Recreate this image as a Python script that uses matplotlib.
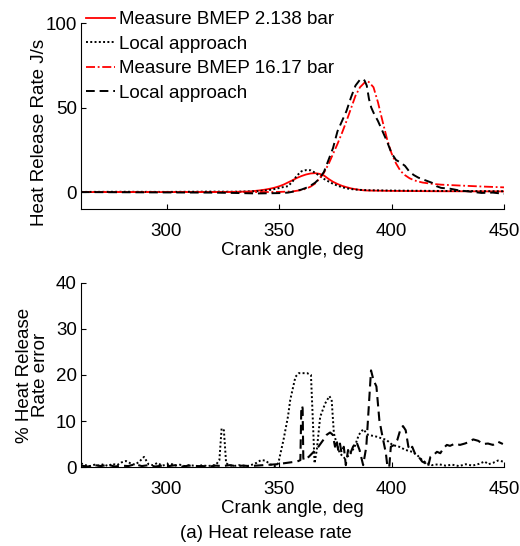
import matplotlib
matplotlib.use("Agg")
import matplotlib.pyplot as plt

plt.rcParams['font.family'] = ['Liberation Sans', 'DejaVu Sans']

# ---------------- Top panel data: heat release rate (J/s) ----------------
ang_meas_lo = [262, 300, 320, 330, 336, 338, 340, 342, 344, 346, 348, 350, 352, 354, 356, 358,
               360, 362, 364, 366, 368, 370, 372, 374, 376, 378, 380, 382, 384, 386, 388, 390,
               400, 420, 450]
hrr_meas_lo = [0, 0, 0.05, 0.15, 0.3, 0.5, 0.8, 1.1, 1.5, 2.0, 2.6, 3.4, 4.4, 5.7, 7.0, 8.4,
               9.5, 10.4, 11.0, 11.2, 10.8, 9.8, 7.8, 6.1, 4.8, 3.7, 2.9, 2.2, 1.7, 1.3, 1.0, 0.9,
               0.7, 0.5, 0.4]

ang_local_lo = [262, 280, 300, 320, 330, 340, 344, 346, 348, 350, 352, 354, 356, 358, 360, 362,
                364, 366, 368, 370, 372, 374, 376, 378, 380, 382, 384, 386, 390, 400, 420, 450]
hrr_local_lo = [0.1, 0.2, 0.1, 0.3, 0.2, 0.5, 1.0, 1.3, 1.8, 2.4, 3.0, 3.5, 6.2, 9.8, 12.3, 13.0,
                12.9, 11.5, 9.6, 7.8, 6.3, 4.9, 3.8, 2.9, 2.2, 1.8, 1.5, 1.3, 1.1, 0.9, 0.7, 0.5]

ang_meas_hi = [262, 300, 340, 350, 356, 360, 362, 364, 366, 368, 370, 372, 374, 376, 378, 380,
               382, 384, 386, 388, 389.5, 390, 392, 394, 396, 398, 400, 402, 404, 406, 408, 410,
               412, 414, 418, 422, 430, 440, 450]
hrr_meas_hi = [0, 0, 0, 0.1, 0.4, 1.2, 2.0, 3.2, 5.0, 8.0, 11.5, 16.5, 22.5, 28.5, 35, 42,
               49.5, 57, 62, 64.7, 65.5, 65, 62, 53, 42, 31.5, 23, 17, 12.5, 10, 8.2, 7.0,
               6.2, 5.6, 4.9, 4.4, 3.9, 3.3, 2.8]

ang_local_hi = [262, 300, 320, 330, 340, 350, 354, 356, 358, 360, 362, 364, 366, 368, 370, 372,
                374, 376, 378, 380, 382, 384, 386, 387, 388, 389, 390, 391, 392, 394, 396, 398,
                400, 402, 404, 406, 408, 410, 412, 414, 416, 418, 420, 422, 426, 430, 435, 440,
                445, 450]
hrr_local_hi = [0, -0.2, -0.3, -0.5, -0.8, -0.6, -0.3, 0.2, 0.8, 1.5, 2.5, 3.8, 5.5, 8, 12, 19,
                26, 36, 42, 48, 56, 63, 66.5, 67, 66, 63, 55, 50, 47, 42, 36, 30,
                23, 19, 17.5, 15.5, 12, 10, 8.5, 7.5, 6.5, 5.5, 3.5, 2.5, 2, 1, 0.3, -0.5,
                -0.3, -1]

# ---------------- Bottom panel data: % heat release rate error ----------------
ang_err_lo = [262, 264, 266, 268, 270, 272, 274, 276, 278, 280, 282, 284, 286, 288, 290, 292,
              294, 296, 298, 300, 302, 304, 306, 308, 310, 312, 314, 316, 318, 320, 322, 323.5,
              324.5, 325.5, 326.5, 328, 330, 332, 334, 336, 338, 340, 342, 344, 346, 348, 349.3,
              350, 352, 354, 355, 357.3, 358.8, 362.5, 364.2, 365.1, 365.8, 366.8, 368.3, 370.5,
              372.4, 373.4, 374.4, 375.6, 377, 379.2, 381.4, 383.6, 385.5, 387.4, 389.6, 393.3,
              397.7, 400.4, 403.4, 406.3, 409.2, 411.4, 413.6, 415.8, 418, 421, 424, 427, 430,
              433, 436, 439, 441.4, 443, 445.1, 447.3, 449.5, 450]
err_lo = [0.8, 0.4, 0.2, 0.5, 0.3, 0.6, 0.2, 0.7, 0.4, 1.0, 1.3, 0.8, 0.5, 1.2, 2.2, 0.6,
          0.4, 0.9, 0.3, 0.5, 0.7, 0.3, 0.5, 0.2, 0.4, 0.3, 0.2, 0.4, 0.2, 0.3, 0.5, 1.5,
          8.4, 8.0, 0.8, 0.4, 0.2, 0.4, 0.3, 0.2, 0.5, 0.9, 1.5, 1.4, 0.6, 0.2, 0.4,
          1.5, 5.9, 11, 14.6, 19.6, 20.4, 20.4, 20, 9.5, 0.8, 3.7, 10.9, 13.8,
          15.4, 14.6, 7.3, 5.1, 3, 1.9, 2.6, 4.4, 7, 8.2, 7, 6.6,
          5.9, 4.8, 4.4, 3.7, 3.3, 2.6, 1.5, 0.8, 0.4, 0.6, 0.3, 0.5, 0.2,
          0.6, 0.3, 0.7, 1.2, 0.6, 0.9, 1.4, 1.2, 1.0]

ang_err_hi = [262, 265, 268, 271, 274, 277, 280, 283, 286, 289, 292, 295, 298, 301, 304, 307,
              310, 313, 316, 319, 322, 325, 328, 331, 334, 337, 340, 343, 346, 349, 352, 355,
              358.1, 359.5, 359.9, 360.2, 360.5, 360.8, 361, 363.2, 365.4, 367.5, 369.7, 371.2,
              372.7, 373.9, 374.9, 375.6, 376.3, 377.1, 377.8, 378.8, 379.7, 380.7, 381.4, 382.9,
              384.4, 385.8, 387.4, 388.8, 389.9, 390.9, 392, 393.3, 394.6, 396, 397.5, 398.2,
              399, 399.7, 401.2, 402.6, 404.1, 405.1, 406.3, 407.5, 408.5, 409.2, 410.7, 412.1,
              413.6, 415.1, 416.2, 417.3, 418.7, 420.2, 421.7, 423.1, 424.6, 426, 428.3, 430.4,
              432.6, 434.8, 436.3, 438.5, 440.7, 442.9, 445.1, 447.3, 449.5]
err_hi = [0.3, 0.1, 0.4, 0.2, 0.5, 0.1, 0.3, 0.2, 0.6, 0.2, 0.4, 0.1, 0.3, 0.2, 0.4, 0.1,
          0.3, 0.2, 0.2, 0.1, 0.3, 0.2, 0.4, 0.2, 0.3, 0.2, 0.3, 0.4, 0.5, 0.6, 0.8, 1.0,
          1.2, 1.5, 12.5, 13.3, 12.8, 2, 1.5, 2.2, 3.3, 4.4, 5.9, 7,
          7.5, 7, 4.4, 5.9, 3.7, 5.1, 3, 4.4, 0.4, 3.7, 2.6, 4.4,
          5.5, 3.7, 0.4, 4.4, 13.1, 21, 18.9, 17.5, 10.2, 6.6, 3, 0,
          0, 4.4, 4.8, 5.9, 8.4, 8.9, 8, 4.4, 3.7, 4.4, 2.6, 2.2,
          1.2, 0.8, 0, 2.2, 2.6, 3.3, 3, 4.1, 4.8, 4.6, 5.1, 4.8,
          5.1, 5.5, 6, 5.7, 5, 5.1, 4.8, 5.5, 5]

labels = ["Measure BMEP 2.138 bar", "Local approach",
          "Measure BMEP 16.17 bar", "Local approach"]
xticks = [300, 350, 400, 450]

W, H = 520, 546
fig = plt.figure(figsize=(W / 100, H / 100), dpi=100)
FS = 13.5

def style(ax):
    for s in ("top", "right"):
        ax.spines[s].set_visible(False)
    for s in ("left", "bottom"):
        ax.spines[s].set_linewidth(0.8)
    ax.tick_params(direction="in", length=3.6, width=0.8, labelsize=FS,
                   top=False, right=False)
    ax.tick_params(axis="x", pad=10)
    ax.tick_params(axis="y", pad=3)
    ax.set_xlim(262, 450)
    ax.set_xticks(xticks)
    ax.set_facecolor("none")

ax1 = fig.add_axes([81 / W, 1 - 209 / H, 423 / W, 186 / H])
style(ax1)
l1, = ax1.plot(ang_meas_lo, hrr_meas_lo, color="#ff0000", lw=1.3, ls="-")
l2, = ax1.plot(ang_local_lo, hrr_local_lo, color="black", lw=1.4, ls=(0, (1, 1.2)))
l3, = ax1.plot(ang_meas_hi, hrr_meas_hi, color="#ff0000", lw=1.3, ls=(0, (5, 1.5, 1, 1.5)))
l4, = ax1.plot(ang_local_hi, hrr_local_hi, color="black", lw=1.4, ls=(0, (4.5, 2.5)))
ax1.set_ylim(-10, 100)
ax1.set_yticks([0, 50, 100])
ax1.set_xlabel("Crank angle, deg", fontsize=FS, labelpad=1.5)
ax1.set_ylabel("Heat Release Rate J/s", fontsize=FS)
ax1.yaxis.set_label_coords(-0.078, 0.41)

fig.legend([l1, l2, l3, l4], labels, loc="upper left",
           bbox_to_anchor=(86 / W, 1 - 11 / H), frameon=False, fontsize=FS,
           handlelength=1.55, handletextpad=0.2, labelspacing=0.4, borderpad=0,
           borderaxespad=0)

ax2 = fig.add_axes([81 / W, 1 - 467 / H, 423 / W, 184 / H])
style(ax2)
ax2.plot(ang_err_lo, err_lo, color="black", lw=1.4, ls=(0, (1, 1.2)))
ax2.plot(ang_err_hi, err_hi, color="black", lw=1.5, ls=(0, (4.5, 2.5)))
ax2.set_ylim(0, 40)
ax2.set_yticks([0, 10, 20, 30, 40])
ax2.set_xlabel("Crank angle, deg", fontsize=FS, labelpad=1.5)
ax2.set_ylabel("% Heat Release\nRate error", fontsize=FS, linespacing=0.95)
ax2.yaxis.set_label_coords(-0.076, 0.5)

fig.text(266 / W, 1 - 533 / H, "(a) Heat release rate", fontsize=FS,
         ha="center", va="center")

fig.savefig("out.png", dpi=100)
